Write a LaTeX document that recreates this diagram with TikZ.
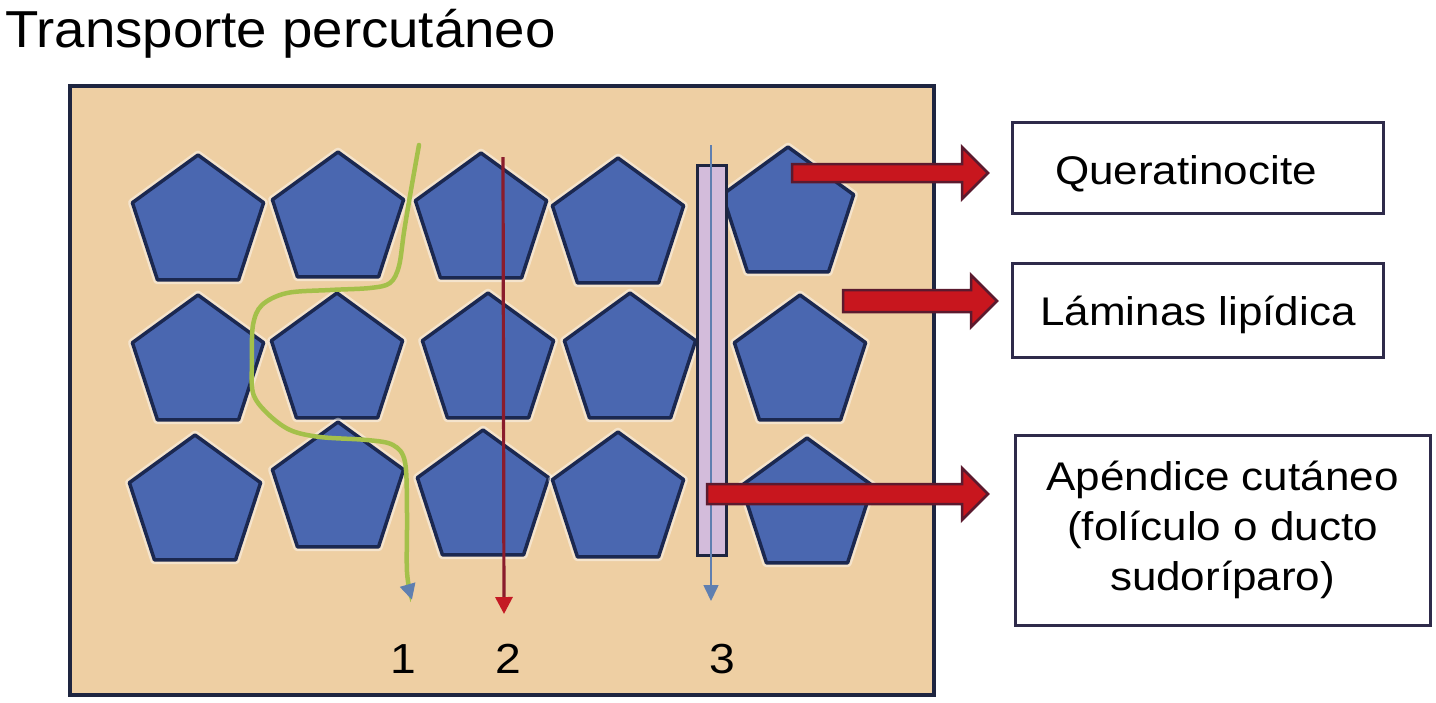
\documentclass[tikz,border=0pt]{standalone}
\usepackage{fontspec}
\setmainfont{Liberation Sans}
\newfontfamily\lblfont[FakeStretch=1.1]{Liberation Sans}
\newfontfamily\ttlfont[FakeStretch=1.05]{Liberation Sans}
\usetikzlibrary{shapes.geometric,arrows.meta,calc}
\definecolor{skinbg}{HTML}{EECFA3}
\definecolor{frame}{HTML}{1E2540}
\definecolor{pentblue}{HTML}{4A67B0}
\definecolor{pentedge}{HTML}{1B2850}
\definecolor{pathgreen}{HTML}{A4C04A}
\definecolor{linered}{HTML}{8A1C2C}
\definecolor{tipred}{HTML}{C41A24}
\definecolor{tipblue}{HTML}{5F7FB0}
\definecolor{tubefill}{HTML}{D3BCDB}
\definecolor{fatred}{HTML}{C8161E}
\definecolor{fatedge}{HTML}{5B1A2E}
\definecolor{boxedge}{HTML}{2E2A4A}
\begin{document}
\begin{tikzpicture}[x=1pt,y=-1pt,
  pent/.style={regular polygon, regular polygon sides=5, minimum size=138pt,
    inner sep=0pt, outer sep=0pt, fill=pentblue, draw=pentedge, line width=3.5pt,
    line join=round,
    preaction={draw=white, line width=8.5pt, opacity=0.45, line join=round}},
  lblbox/.style={draw=boxedge, line width=3pt, fill=white, inner sep=0pt, outer sep=0pt},
  lbltxt/.style={font=\lblfont\fontsize{40}{50}\selectfont, inner sep=0pt, anchor=base},
  numtxt/.style={font=\lblfont\fontsize{42}{50}\selectfont, inner sep=0pt, anchor=base},
  route1/.style={draw=pathgreen, line width=4.5pt, line cap=round,
    -{Triangle[width=15pt,length=16pt,color=tipblue]}},
  route2/.style={draw=linered, line width=3.2pt,
    -{Triangle[width=17pt,length=17pt,color=tipred]}},
  route3/.style={draw=tipblue, line width=1.6pt,
    -{Triangle[width=15pt,length=16pt,color=tipblue]}},
  tubebox/.style={fill=tubefill, draw=frame, line width=3pt},
  fatarrow/.style={fill=fatred, draw=fatedge, line width=2.5pt, line join=miter}
]
\useasboundingbox (0,0) rectangle (1436,702);
\fill[white] (0,0) rectangle (1436,702);

% title
\node[anchor=base west, inner sep=0pt, font=\ttlfont\fontsize{52}{60}\selectfont] (title) at (5,47) {Transporte percutáneo};

% skin block
\draw[fill=skinbg, draw=frame, line width=4pt] (70,86) rectangle (934,695);

% keratinocytes (apex x / apex y)
\foreach \n/\x/\y in {11/198/155, 12/338/152, 13/481/153, 14/618/158, 15/788/147,
                      21/198/295, 22/337/293, 23/488/293, 24/630/293, 25/800/295,
                      31/195/435, 32/338/422, 33/483/430, 34/618/432, 35/807/438}
  \node[pent] (p\n) at (\x,\y+69) {};

% appendage tube
\draw[tubebox] (697,165) rectangle (726,555);
\coordinate (t3s) at (711,145);
\coordinate (t3e) at (711,601);
\draw[route3] (t3s) -- (t3e);

% route 1 (intercellular)
\coordinate (g1s) at (419,145);
\coordinate (g1e) at (412,600);
\draw[route1] plot[smooth, tension=0.55] coordinates {
  (g1s) (411,190) (404,232) (399,266) (390,283) (370,288) (330,290) (287,293)
  (262,305) (253,325) (252,360) (253,393) (267,413) (290,430) (320,437)
  (367,440) (393,445) (405,462) (407,513) (407,572) (g1e)};

% route 2 (transcellular)
\coordinate (r2s) at (503,157);
\coordinate (r2e) at (504,614);
\draw[route2] (r2s) -- (r2e);

% label boxes
\node[lblbox, minimum width=371pt, minimum height=91pt] (qbox) at (1197.5,167.5) {};
\node[lbltxt] (qtxt) at (1186,184) {Queratinocite};
\node[lblbox, minimum width=371pt, minimum height=94pt] (lbox) at (1197.5,310) {};
\node[lbltxt] (ltxt) at (1198,325) {Láminas lipídica};
\node[lblbox, minimum width=415pt, minimum height=190pt, align=center,
      font=\lblfont\fontsize{40}{50}\selectfont] (abox) at (1222.5,530)
  {Apéndice cutáneo\\(folículo o ducto\\sudoríparo)};

% fat pointer arrows
\coordinate (a1s) at (792,173);  \coordinate (a1t) at (988,173);
\coordinate (a2s) at (843,301);  \coordinate (a2t) at (997,301);
\coordinate (a3s) at (707,494);  \coordinate (a3t) at (988,494);
\foreach \s/\t/\h in {a1s/a1t/9, a2s/a2t/11, a3s/a3t/10}
  \draw[fatarrow] ($(\s)+(0,-\h)$) -- ($(\t)+(-26,-\h)$) -- ($(\t)+(-26,-26)$)
    -- (\t) -- ($(\t)+(-26,26)$) -- ($(\t)+(-26,\h)$) -- ($(\s)+(0,\h)$) -- cycle;

% route numbers
\node[numtxt] (n1) at (403,673) {1};
\node[numtxt] (n2) at (508,673) {2};
\node[numtxt] (n3) at (722,673) {3};
\end{tikzpicture}
\end{document}
